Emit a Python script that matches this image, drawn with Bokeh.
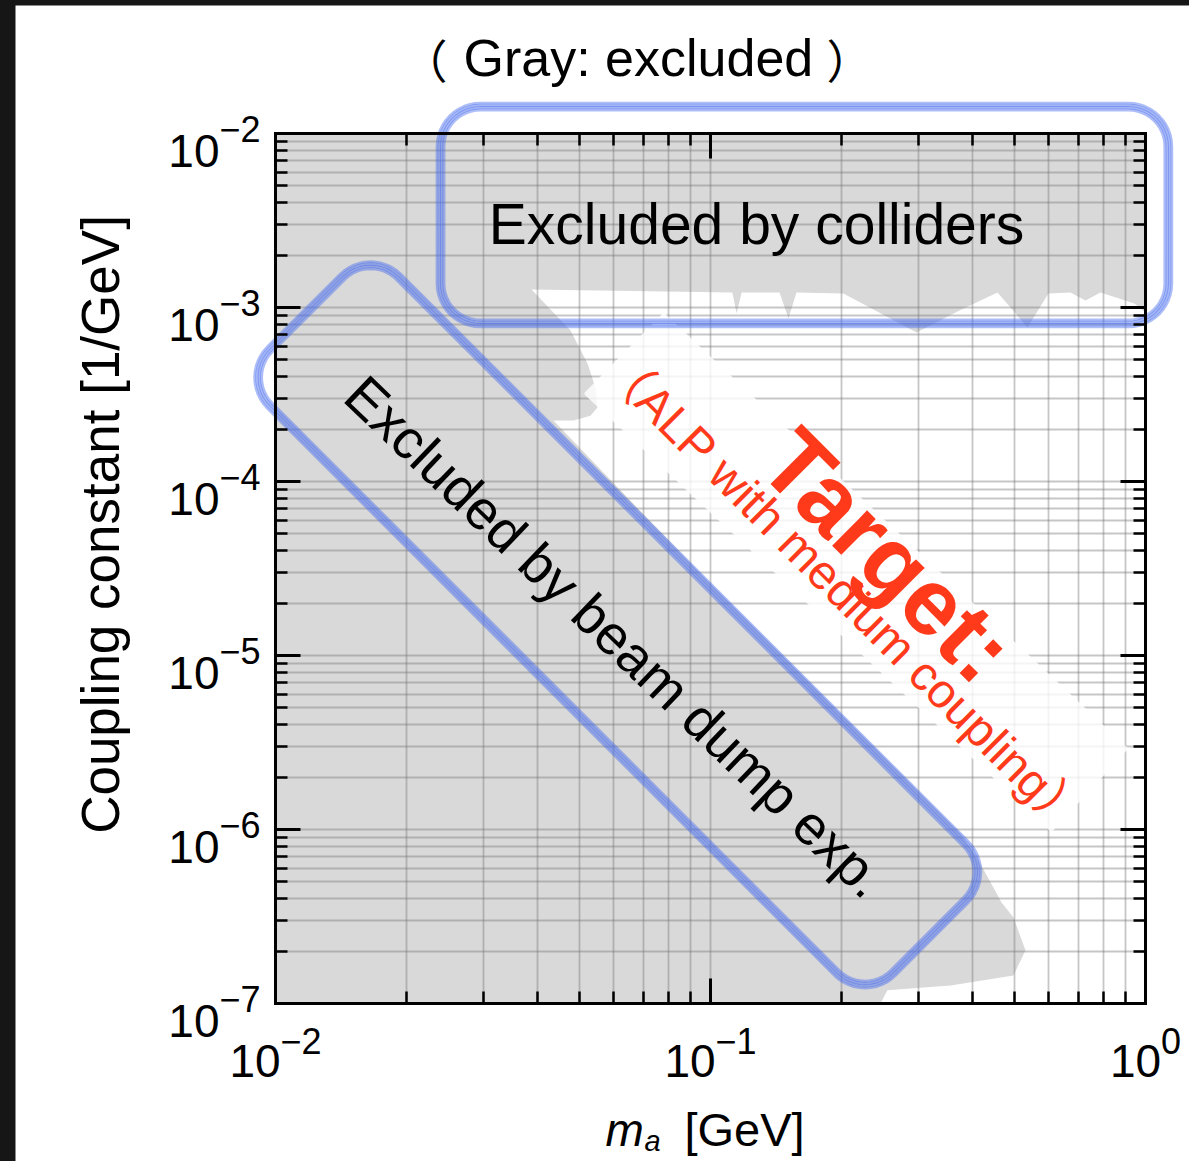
import math
from bokeh.plotting import figure
from bokeh.models import (Range1d, LogAxis, FixedTicker, Label, Grid, CustomJSTickFormatter)
from bokeh.layouts import column
from bokeh.embed import file_html
from bokeh.resources import INLINE

# ---------------- data ----------------
X_RANGE = (1e-2, 1e0)
Y_RANGE = (1e-7, 1e-2)
x_ticks = [1e-2, 1e-1, 1e0]
x_tick_exponents = ["\u22122", "\u22121", "0"]
y_ticks = [1e-7, 1e-6, 1e-5, 1e-4, 1e-3, 1e-2]
y_tick_exponents = ["\u22127", "\u22126", "\u22125", "\u22124", "\u22123", "\u22122"]
minor_mantissas = [2, 3, 4, 5, 6, 7, 8, 9]

# excluded (gray) region boundary: mass [GeV], coupling [1/GeV]
excluded_mass = [0.01, 1.0, 1.0, 0.943, 0.788, 0.728, 0.672, 0.598, 0.5355, 0.4568,
                 0.3736, 0.2976, 0.2021, 0.1576, 0.1511, 0.1441, 0.1179, 0.1148, 0.1123,
                 0.03878, 0.04767, 0.05215, 0.05438, 0.05496, 0.05297, 0.04844, 0.04356,
                 0.09484, 0.2098, 0.3756, 0.4110, 0.4667, 0.4972, 0.5298, 0.4972, 0.3562,
                 0.2551, 0.2459, 0.01]
excluded_coupling = [1e-2, 1e-2, 9.36e-4, 1.054e-3, 1.220e-3, 1.097e-3, 1.220e-3, 1.204e-3,
                     7.68e-4, 1.220e-3, 9.61e-4, 7.18e-4, 1.204e-3, 1.220e-3, 8.65e-4,
                     1.220e-3, 1.220e-3, 9.24e-4, 1.220e-3, 1.269e-3, 7.38e-4, 4.77e-4,
                     3.47e-4, 2.66e-4, 2.39e-4, 2.24e-4, 2.24e-4, 2.96e-5, 4.07e-6, 9.48e-7,
                     6.81e-7, 3.81e-7, 3.12e-7, 2.02e-7, 1.45e-7, 1.27e-7, 1.19e-7, 1e-7, 1e-7]

# hand-drawn boxes (sharp corners, data coords)
collider_box_mass = [0.02394, 1.129, 1.129, 0.02394]
collider_box_coupling = [1.429e-2, 1.429e-2, 8.09e-4, 8.09e-4]
beamdump_box_mass = [0.01654, 0.4484, 0.2266, 0.00835]
beamdump_box_coupling = [2.18e-3, 5.70e-7, 1.03e-7, 3.96e-4]
# white band behind the target text
target_band_mass = [0.0780, 0.914, 0.6079, 0.05105]
target_band_coupling = [9.36e-4, 2.92e-6, 9.61e-7, 3.20e-4]

# ---------------- layout constants ----------------
FRAME_W = FRAME_H = 870          # size of the plot box
LEFT, RIGHT, TOP, BOTTOM = 260, 44, 128, 158
TOTAL_W, TOTAL_H = LEFT + FRAME_W + RIGHT, TOP + FRAME_H + BOTTOM
FONT = "Liberation Sans"
CJK = "Noto Sans CJK JP"

LX0, LY0 = math.log10(X_RANGE[0]), math.log10(Y_RANGE[0])
PXX = FRAME_W / (math.log10(X_RANGE[1]) - LX0)
PXY = FRAME_H / (math.log10(Y_RANGE[1]) - LY0)
# visible ranges extended so the whole canvas is drawable while the box keeps X_RANGE/Y_RANGE
view_x = (10 ** (LX0 - LEFT / PXX), 10 ** (LX0 + (TOTAL_W - LEFT) / PXX))
view_y = (10 ** (LY0 - BOTTOM / PXY), 10 ** (LY0 + (TOTAL_H - BOTTOM) / PXY))

p = figure(width=TOTAL_W, height=TOTAL_H, x_axis_type="log", y_axis_type="log",
           x_range=Range1d(*view_x), y_range=Range1d(*view_y),
           output_backend="svg", toolbar_location=None,
           min_border=0, min_border_left=0, min_border_right=0,
           min_border_top=0, min_border_bottom=0,
           background_fill_color="white", border_fill_color="white",
           outline_line_color=None)

x_minor = [m * t for t in x_ticks[:-1] for m in minor_mantissas]
y_minor = [m * t for t in y_ticks[:-1] for m in minor_mantissas]
xt = FixedTicker(ticks=x_ticks, minor_ticks=x_minor)
yt = FixedTicker(ticks=y_ticks, minor_ticks=y_minor)

p.add_layout(LogAxis(), "above")
p.add_layout(LogAxis(), "right")


def style_axis(ax, ticker, bounds, loc):
    ax.ticker = ticker
    ax.bounds = bounds
    ax.fixed_location = loc
    ax.formatter = CustomJSTickFormatter(code="return ''")
    ax.major_label_text_font_size = "1px"
    ax.major_label_standoff = 0
    ax.axis_line_color = "black"
    ax.axis_line_width = 3
    ax.axis_line_cap = "square"
    ax.major_tick_in = 25
    ax.major_tick_out = 0
    ax.major_tick_line_width = 3
    ax.minor_tick_in = 12
    ax.minor_tick_out = 0
    ax.minor_tick_line_width = 2.5
    ax.axis_label = None


style_axis(p.below[0], xt, X_RANGE, Y_RANGE[0])
style_axis(p.above[0], xt, X_RANGE, Y_RANGE[1])
style_axis(p.left[0], yt, Y_RANGE, X_RANGE[0])
style_axis(p.right[0], yt, Y_RANGE, X_RANGE[1])

GRID_COLOR, GRID_ALPHA, GRID_W = "#777777", 0.42, 1.8
has_cross = "cross_bounds" in Grid.properties()
for g, t, b, cb in ((p.xgrid[0], xt, X_RANGE, Y_RANGE), (p.ygrid[0], yt, Y_RANGE, X_RANGE)):
    g.ticker = t
    g.bounds = b
    g.grid_line_color = GRID_COLOR
    g.grid_line_alpha = GRID_ALPHA
    g.grid_line_width = GRID_W
    g.minor_grid_line_color = GRID_COLOR
    g.minor_grid_line_alpha = GRID_ALPHA
    g.minor_grid_line_width = GRID_W
    if has_cross:
        g.cross_bounds = cb
    else:
        g.visible = False
if not has_cross:
    gx = x_ticks + x_minor
    gy = y_ticks + y_minor
    r1 = p.segment(x0=gx, y0=[Y_RANGE[0]] * len(gx), x1=gx, y1=[Y_RANGE[1]] * len(gx),
                   line_color=GRID_COLOR, line_alpha=GRID_ALPHA, line_width=GRID_W)
    r2 = p.segment(x0=[X_RANGE[0]] * len(gy), y0=gy, x1=[X_RANGE[1]] * len(gy), y1=gy,
                   line_color=GRID_COLOR, line_alpha=GRID_ALPHA, line_width=GRID_W)
    r1.level = "underlay"
    r2.level = "underlay"

gray = p.patch(excluded_mass, excluded_coupling, fill_color="#d9d9d9", line_color=None)
gray.level = "image"


# ---- rounded hand-drawn outlines, shaped in box-pixel proportions ----
def to_px(x, y):
    return ((math.log10(x) - LX0) * PXX, (math.log10(y) - LY0) * PXY)


def from_px(X, Y):
    return (10 ** (X / PXX + LX0), 10 ** (Y / PXY + LY0))


def unit(vx, vy):
    n = math.hypot(vx, vy)
    return vx / n, vy / n


def rounded(xs, ys, r, off, n=12):
    P = [to_px(x, y) for x, y in zip(xs, ys)]
    k = len(P)
    area = sum(P[i][0] * P[(i + 1) % k][1] - P[(i + 1) % k][0] * P[i][1] for i in range(k))
    s = 1 if area > 0 else -1
    out_x, out_y = [], []
    for i in range(k):
        V, A, B = P[i], P[i - 1], P[(i + 1) % k]
        u1 = unit(A[0] - V[0], A[1] - V[1])
        u2 = unit(B[0] - V[0], B[1] - V[1])
        C = (V[0] + r * (u1[0] + u2[0]), V[1] + r * (u1[1] + u2[1]))
        d1 = unit(V[0] - A[0], V[1] - A[1])
        d2 = unit(B[0] - V[0], B[1] - V[1])
        a1 = math.atan2(-d1[0] * s, d1[1] * s)
        a2 = math.atan2(-d2[0] * s, d2[1] * s)
        da = (a2 - a1 + math.pi) % (2 * math.pi) - math.pi
        for j in range(n + 1):
            a = a1 + da * j / n
            X, Y = C[0] + (r + off) * math.cos(a), C[1] + (r + off) * math.sin(a)
            x, y = from_px(X, Y)
            out_x.append(x)
            out_y.append(y)
    out_x.append(out_x[0])
    out_y.append(out_y[0])
    return out_x, out_y


# white band behind the target text
bx, by = rounded(target_band_mass, target_band_coupling, 2, 0)
p.patch(bx, by, fill_color="white", fill_alpha=0.8, line_color=None)

BLUE = "#4a6ded"
strokes = [(-3.5, 3, 0.45), (-1.2, 3.2, 0.5), (1.2, 3.2, 0.5), (3.5, 2.6, 0.45)]
for bxs, bys, rad in ((collider_box_mass, collider_box_coupling, 40),
                      (beamdump_box_mass, beamdump_box_coupling, 40)):
    for off, w, a in strokes:
        xs, ys = rounded(bxs, bys, rad, off)
        p.line(xs, ys, line_color=BLUE, line_alpha=a, line_width=w)


# ---------------- texts ----------------
def lab(**kw):
    kw.setdefault("text_font", FONT)
    kw.setdefault("text_color", "black")
    p.add_layout(Label(**kw))


lab(x=0.1276, y=3.0e-3, text="Excluded by colliders", text_font_size="57px",
    text_align="center", text_baseline="middle")
lab(x=0.0605, y=1.28e-5, text="Excluded by beam dump exp.", text_font_size="55px",
    text_align="center", text_baseline="middle", angle=-0.765)
RED = "#ff3a1a"
lab(x=0.2560, y=3.75e-5, text="Target:", text_font_style="bold", text_font_size="94px",
    text_color=RED, text_align="center", text_baseline="middle", angle=-0.785)
lab(x=0.2032, y=2.30e-5, text="\uff08ALP with medium coupling\uff09",
    text_font=FONT + ", " + CJK, text_font_size="48px", text_color=RED,
    text_align="center", text_baseline="middle", angle=-0.785)

# title: （Gray: excluded）
lab(x=X_RANGE[0], y=Y_RANGE[1], x_offset=172, y_offset=76, text="\uff08", text_font=CJK,
    text_font_size="46px", text_align="right", text_baseline="alphabetic")
lab(x=X_RANGE[0], y=Y_RANGE[1], x_offset=188, y_offset=76, text="Gray: excluded",
    text_font_size="52px", text_align="left", text_baseline="alphabetic")
lab(x=X_RANGE[0], y=Y_RANGE[1], x_offset=551, y_offset=76, text="\uff09", text_font=CJK,
    text_font_size="46px", text_align="left", text_baseline="alphabetic")

# axis titles
lab(x=X_RANGE[0], y=Y_RANGE[0], x_offset=-175, y_offset=479,
    text="Coupling constant [1/GeV]", text_font_size="53px",
    text_align="center", text_baseline="middle", angle=math.pi / 2)
lab(x=X_RANGE[0], y=Y_RANGE[0], x_offset=330, y_offset=-126, text="m",
    text_font_style="italic", text_font_size="46px", text_align="left",
    text_baseline="alphabetic")
lab(x=X_RANGE[0], y=Y_RANGE[0], x_offset=369, y_offset=-137, text="a",
    text_font_style="italic", text_font_size="29px", text_align="left",
    text_baseline="alphabetic")
lab(x=X_RANGE[0], y=Y_RANGE[0], x_offset=409, y_offset=-126, text="[GeV]",
    text_font_size="47px", text_align="left", text_baseline="alphabetic")

# tick labels 10^n
BASE_FS, EXP_FS = 46, 36
W = {"\u2212": 0.584}


def exp_width(s):
    return sum(W.get(c, 0.556) for c in s) * EXP_FS


w10 = 2 * 0.556 * BASE_FS
for t, e in zip(x_ticks, x_tick_exponents):
    dx = (w10 - exp_width(e)) / 2
    lab(x=t, y=Y_RANGE[0], x_offset=dx, y_offset=-57, text="10",
        text_font_size=f"{BASE_FS}px", text_align="right", text_baseline="alphabetic")
    lab(x=t, y=Y_RANGE[0], x_offset=dx, y_offset=-37, text=e,
        text_font_size=f"{EXP_FS}px", text_align="left", text_baseline="alphabetic")
for t, e in zip(y_ticks, y_tick_exponents):
    we = exp_width(e)
    lab(x=X_RANGE[0], y=t, x_offset=-15 - we, y_offset=-17, text="10",
        text_font_size=f"{BASE_FS}px", text_align="right", text_baseline="alphabetic")
    lab(x=X_RANGE[0], y=t, x_offset=-15 - we, y_offset=5, text=e,
        text_font_size=f"{EXP_FS}px", text_align="left", text_baseline="alphabetic")

p.margin = (5, 0, 0, 15)
layout = column(p, styles={"background-color": "#161616"}, spacing=0)

open("out.html", "w").write(file_html(layout, INLINE))
